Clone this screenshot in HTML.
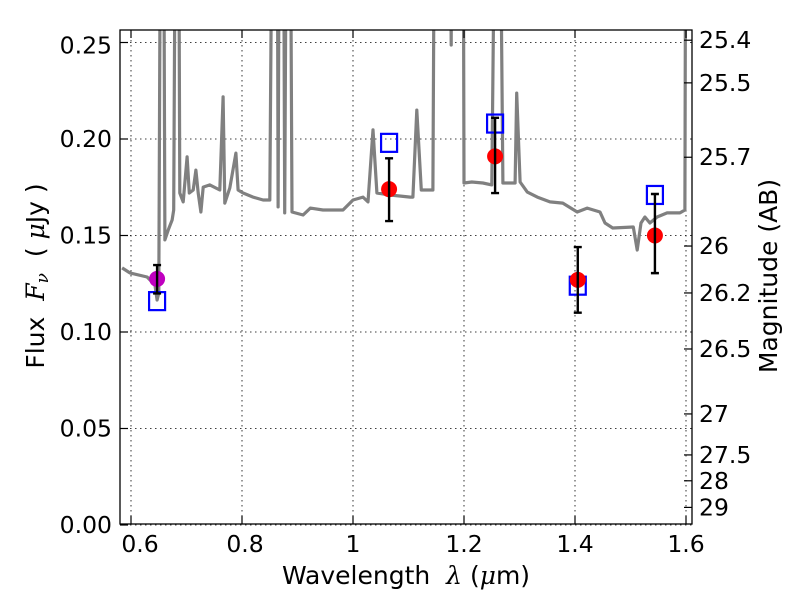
<!DOCTYPE html>
<html><head><meta charset="utf-8"><style>
body{margin:0;background:#fff}
svg{display:block;font-family:"DejaVu Sans","Liberation Sans",sans-serif}
</style></head><body>
<svg id="chart" width="800" height="600" viewBox="0 0 800 600">
<defs><clipPath id="clip"><rect x="120" y="30" width="572" height="494"/></clipPath></defs>
<rect x="0" y="0" width="800" height="600" fill="#fff"/>
<g id="grid"></g>
<g id="spec" clip-path="url(#clip)"></g>
<g id="pts"></g>
<rect x="120" y="30" width="572" height="494" fill="none" stroke="#000" stroke-width="1.3"/>
<g id="axes"></g>
<text x="406" y="584" font-size="25" text-anchor="middle" xml:space="preserve">Wavelength  <tspan font-style="italic" font-family="DejaVu Serif, serif">λ</tspan> (<tspan font-style="italic" font-family="DejaVu Serif, serif">μ</tspan>m)</text>
<text transform="translate(44,276) rotate(-90)" font-size="25" text-anchor="middle" xml:space="preserve">Flux  <tspan font-style="italic" font-family="DejaVu Serif, serif">F</tspan><tspan font-style="italic" font-family="DejaVu Serif, serif" font-size="17" dy="4">ν</tspan><tspan dy="-4">  ( </tspan><tspan font-style="italic" font-family="DejaVu Serif, serif">μ</tspan>Jy )</text>
<text transform="translate(777,276) rotate(-90)" font-size="25" text-anchor="middle">Magnitude (AB)</text>
</svg>
<script>
const specLam=[0.584,0.598,0.629,0.643,0.647,0.650,0.654,0.658,0.661,0.667,0.674,0.677,0.681,0.685,0.688,0.694,0.701,0.705,0.712,0.717,0.721,0.726,0.730,0.742,0.760,0.766,0.769,0.778,0.789,0.793,0.802,0.820,0.838,0.850,0.856,0.863,0.865,0.868,0.874,0.877,0.881,0.886,0.890,0.910,0.923,0.946,0.982,1.000,1.018,1.027,1.036,1.043,1.067,1.103,1.108,1.115,1.123,1.144,1.148,1.173,1.177,1.178,1.198,1.200,1.214,1.234,1.250,1.258,1.263,1.270,1.292,1.295,1.301,1.314,1.332,1.355,1.378,1.404,1.422,1.445,1.454,1.468,1.505,1.512,1.519,1.526,1.535,1.548,1.566,1.589,1.598,1.600,1.62];
const specFlux=[0.1332,0.1306,0.1285,0.1244,0.1166,0.1202,0.40,0.40,0.1477,0.1528,0.1580,0.1632,0.40,0.40,0.1720,0.1674,0.1907,0.1720,0.1736,0.1839,0.1720,0.1622,0.1751,0.1762,0.1736,0.2218,0.1668,0.1746,0.1927,0.1736,0.1720,0.1699,0.1684,0.1684,0.40,0.40,0.1648,0.40,0.40,0.1617,0.40,0.40,0.1622,0.1606,0.1642,0.1632,0.1632,0.1684,0.1699,0.1674,0.2047,0.1720,0.1710,0.1699,0.1699,0.2150,0.1736,0.1736,0.40,0.40,0.2487,0.40,0.40,0.1772,0.1777,0.1772,0.1762,0.40,0.40,0.1772,0.1772,0.2238,0.1777,0.1725,0.1699,0.1674,0.1668,0.1622,0.1642,0.1622,0.1565,0.1539,0.1544,0.1425,0.1565,0.1596,0.1565,0.1596,0.1617,0.1617,0.1632,0.40,0.40];
const obsLam=[0.647,1.065,1.256,1.405,1.544];
const obsFlux=[0.1275,0.174,0.191,0.127,0.150];
const obsErrHi=[0.1347,0.190,0.211,0.144,0.1715];
const obsErrLo=[0.120,0.1575,0.172,0.110,0.1305];
const modelFlux=[0.116,0.198,0.208,0.124,0.171];
const obsColors=['#bf00bf','#ff0000','#ff0000','#ff0000','#ff0000'];
const xTicks=[0.6,0.8,1.0,1.2,1.4,1.6];
const xTickLabels=['0.6','0.8','1','1.2','1.4','1.6'];
const yTicks=[0,0.05,0.10,0.15,0.20,0.25];
const yTickLabels=['0.00','0.05','0.10','0.15','0.20','0.25'];
const magTicks=[25.4,25.5,25.7,26,26.2,26.5,27,27.5,28,29];
const magTickLabels=['25.4','25.5','25.7','26','26.2','26.5','27','27.5','28','29'];

const X=l=>131+(l-0.6)*555;
const Y=f=>525-f*1930;
const NS='http://www.w3.org/2000/svg';
function mk(tag,attrs,parent){const e=document.createElementNS(NS,tag);for(const k in attrs)e.setAttribute(k,attrs[k]);parent.appendChild(e);return e;}
const grid=document.getElementById('grid'),axes=document.getElementById('axes'),spec=document.getElementById('spec'),pts=document.getElementById('pts');

xTicks.forEach((t,i)=>{const x=X(t);
 const g=mk('line',{x1:x,x2:x,y1:30,y2:524,stroke:'#000','stroke-width':0.8,'stroke-dasharray':'1.5,3.5'},grid);
 
 const a=mk('line',{x1:x,x2:x,y1:524,y2:516,stroke:'#000','stroke-width':1.2},axes);
 
 const b=mk('line',{x1:x,x2:x,y1:30,y2:38,stroke:'#000','stroke-width':1.2},axes);
 
 const tx=mk('text',{x:x+(i===0?9:(i===1?3:0)),y:552,'font-size':23.5,'text-anchor':'middle'},axes);tx.textContent=xTickLabels[i];
 
});
yTicks.forEach((t,i)=>{const y=Y(t);
 const g=mk('line',{x1:120,x2:692,y1:y,y2:y,stroke:'#000','stroke-width':0.8,'stroke-dasharray':'1.5,3.5'},grid);
 
 const a=mk('line',{x1:120,x2:128,y1:y,y2:y,stroke:'#000','stroke-width':1.2},axes);
 
 const tx=mk('text',{x:112,y:y+(i===5?11:8),'font-size':23.5,'text-anchor':'end'},axes);tx.textContent=yTickLabels[i];
 
});
magTicks.forEach((m,i)=>{const y=Y(Math.pow(10,(23.9-m)/2.5));
 const a=mk('line',{x1:684,x2:692,y1:y,y2:y,stroke:'#000','stroke-width':1.2},axes);
 
 const tx=mk('text',{x:699,y:y+8,'font-size':23.5},axes);tx.textContent=magTickLabels[i];
 
});
const d=specLam.map((l,i)=>(i?'L':'M')+X(l).toFixed(1)+','+Y(specFlux[i]).toFixed(1)).join(' ');
const p=mk('path',{d:d,fill:'none',stroke:'#808080','stroke-width':3.2,'stroke-linejoin':'round'},spec);

obsLam.forEach((l,i)=>{const x=X(l);
 const sq=mk('rect',{x:x-8,y:Y(modelFlux[i])-9,width:16,height:18,fill:'none',stroke:'#0000ff','stroke-width':2.2},pts);
 
 const e=mk('path',{d:`M${x-4},${Y(obsErrHi[i])} L${x+4},${Y(obsErrHi[i])} M${x-4},${Y(obsErrLo[i])} L${x+4},${Y(obsErrLo[i])}`,stroke:'#000','stroke-width':2.4,fill:'none'},pts);
 
 const c=mk('circle',{cx:x,cy:Y(obsFlux[i]),r:8,fill:obsColors[i]},pts);
 
 const e2=mk('line',{x1:x,x2:x,y1:Y(obsErrHi[i]),y2:Y(obsErrLo[i]),stroke:'#000','stroke-width':2.4},pts);
 
});
</script>
</body></html>
